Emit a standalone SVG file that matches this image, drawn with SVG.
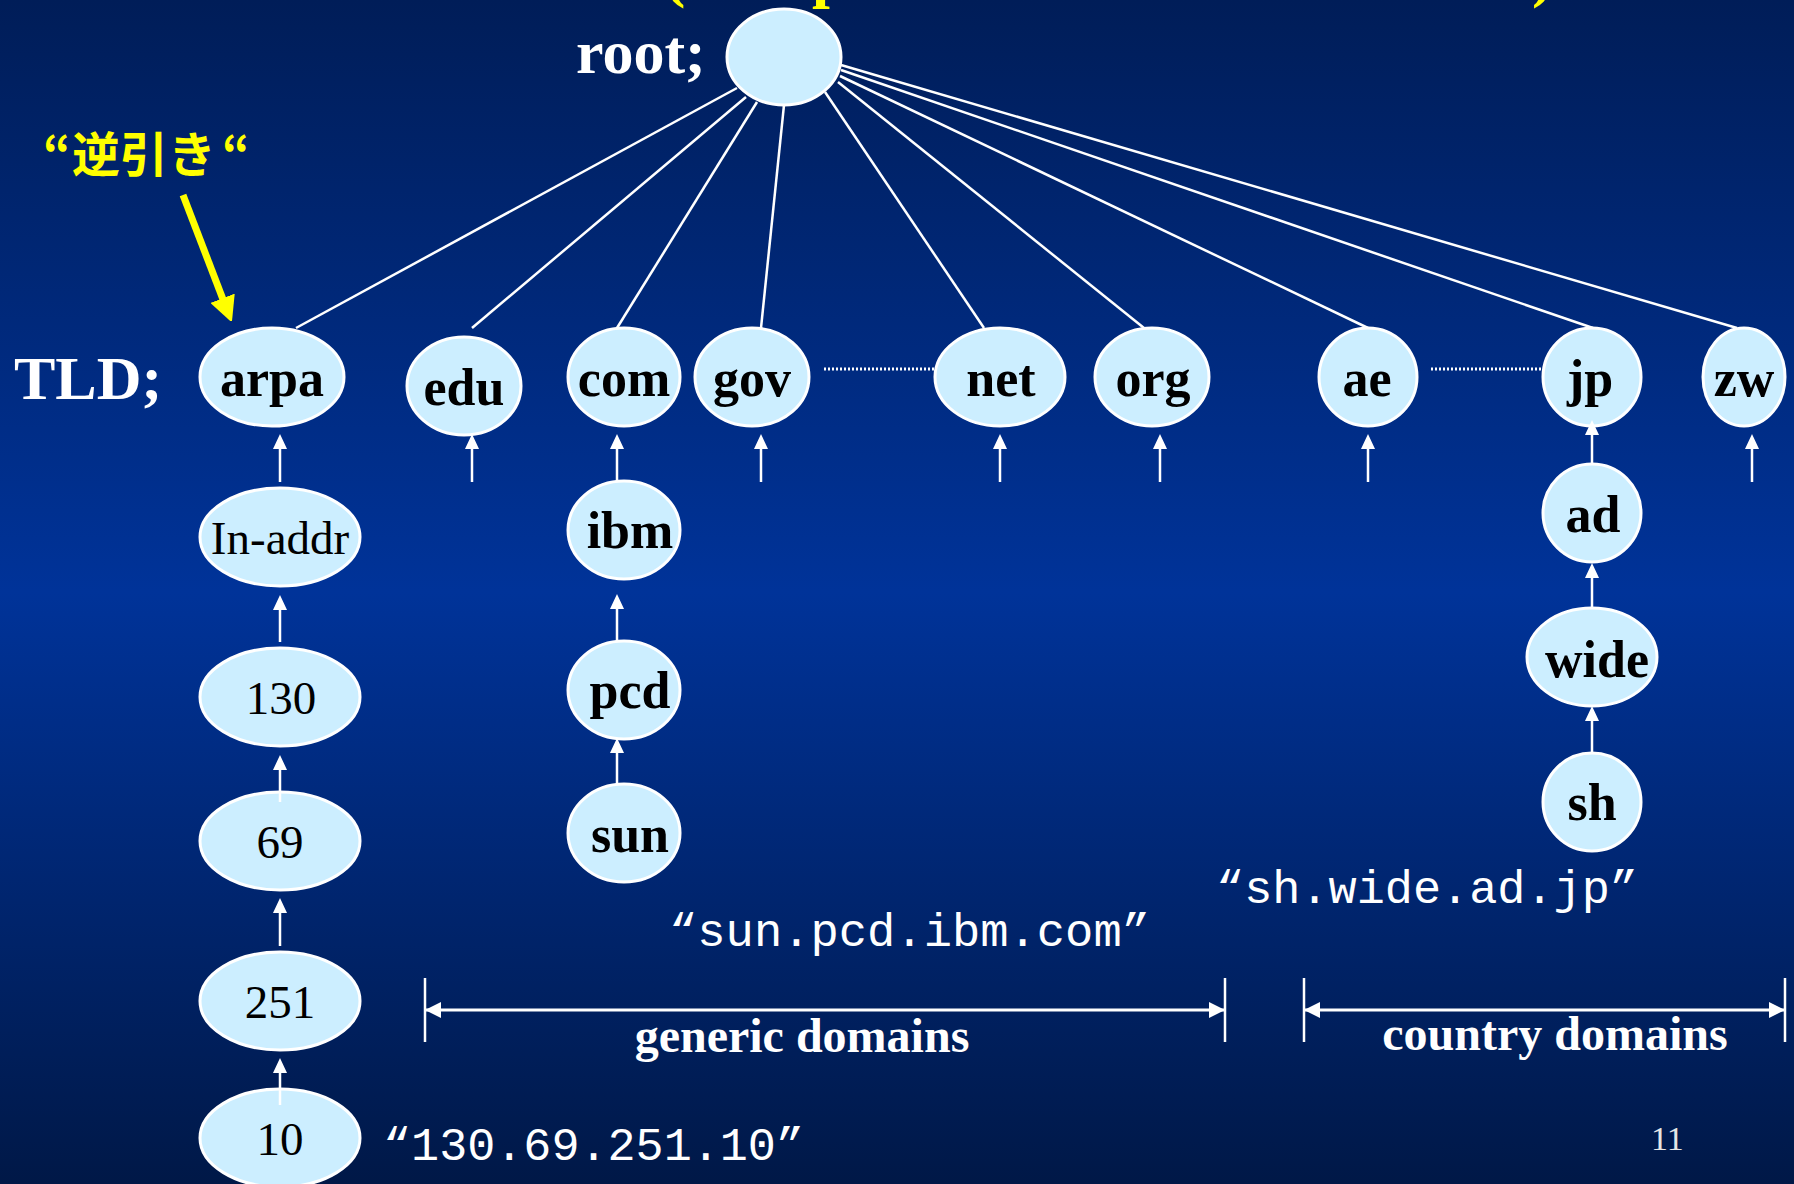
<svg xmlns="http://www.w3.org/2000/svg" width="1794" height="1184" viewBox="0 0 1794 1184">
<defs>
<linearGradient id="bg" x1="0" y1="0" x2="0" y2="1">
<stop offset="0" stop-color="#001d58"/>
<stop offset="0.5" stop-color="#003399"/>
<stop offset="1" stop-color="#001847"/>
</linearGradient>
<marker id="ah" markerUnits="userSpaceOnUse" markerWidth="16" markerHeight="14" refX="4" refY="7" orient="auto">
<path d="M0,0 L15,7 L0,14 z" fill="#ffffff"/>
</marker>
<marker id="dh" markerUnits="userSpaceOnUse" markerWidth="17" markerHeight="16" refX="16" refY="8" orient="auto-start-reverse">
<path d="M0,0 L16,8 L0,16 z" fill="#ffffff"/>
</marker>
<marker id="yh" markerUnits="userSpaceOnUse" markerWidth="24" markerHeight="26" refX="4" refY="13" orient="auto">
<path d="M0,0 L26,13 L0,26 z" fill="#ffff00"/>
</marker>
</defs>
<style>
.n ellipse{fill:#cceeff;stroke:#ffffff;stroke-width:3}
.b{font-family:"Liberation Serif","Times New Roman",serif;font-weight:bold;font-size:52px;fill:#000;text-anchor:middle}
.r{font-family:"Liberation Serif","Times New Roman",serif;font-size:47px;fill:#000;text-anchor:middle}
.e line.t{stroke:#ffffff;stroke-width:2.5}
.e line.a{stroke:#ffffff;stroke-width:2.5;marker-end:url(#ah)}
.w{font-family:"Liberation Serif","Times New Roman",serif;font-weight:bold;fill:#ffffff}
.m{font-family:"Liberation Mono","Courier New",monospace;font-size:46px;fill:#ffffff}
.y{font-family:"Liberation Serif","Times New Roman",serif;font-weight:bold;font-size:64px;fill:#ffff00}
</style>
<rect x="0" y="0" width="1794" height="1184" fill="url(#bg)"/>

<g id="title-fragments">
<text class="y" x="664" y="-5">(</text>
<text class="y" x="812" y="-5">p</text>
<text class="y" x="1532" y="-5">)</text>
</g>

<g id="labels">
<text class="w" x="576" y="73" font-size="62">root;</text>
<text class="w" x="14" y="399" font-size="62">TLD;</text>
<text x="43" y="172" font-family="'Noto Sans CJK JP',sans-serif" font-weight="bold" font-size="48" fill="#ffff00"><tspan x="43">“</tspan><tspan x="72">逆引き</tspan><tspan x="222">“</tspan></text>
<line x1="183" y1="195" x2="224" y2="302" stroke="#ffff00" stroke-width="7" marker-end="url(#yh)"/>
<text class="m" x="669" y="946" textLength="481" lengthAdjust="spacingAndGlyphs">“sun.pcd.ibm.com”</text>
<text class="m" x="1216" y="903" textLength="422" lengthAdjust="spacingAndGlyphs">“sh.wide.ad.jp”</text>
<text class="m" x="383" y="1160" textLength="421" lengthAdjust="spacingAndGlyphs">“130.69.251.10”</text>
<text class="w" x="802" y="1052" font-size="48" text-anchor="middle">generic domains</text>
<text class="w" x="1555" y="1050" font-size="48" text-anchor="middle">country domains</text>
<text x="1651" y="1150" font-family="'Liberation Serif',serif" font-size="34" fill="#e6e6e6">11</text>
</g>

<g id="root" class="n"><ellipse cx="784" cy="57" rx="57" ry="48"/></g>
<g id="arpa" class="n"><ellipse cx="272" cy="377" rx="72" ry="49"/><text class="b" x="272" y="396">arpa</text></g>
<g id="edu" class="n"><ellipse cx="464" cy="386" rx="57" ry="49"/><text class="b" x="464" y="405">edu</text></g>
<g id="com" class="n"><ellipse cx="624" cy="377" rx="56" ry="49"/><text class="b" x="624" y="396">com</text></g>
<g id="gov" class="n"><ellipse cx="752" cy="377" rx="57" ry="49"/><text class="b" x="752" y="396">gov</text></g>
<g id="net" class="n"><ellipse cx="1000" cy="377" rx="65" ry="49"/><text class="b" x="1001" y="396">net</text></g>
<g id="org" class="n"><ellipse cx="1152" cy="377" rx="57" ry="49"/><text class="b" x="1153" y="396">org</text></g>
<g id="ae" class="n"><ellipse cx="1368" cy="377" rx="49" ry="49"/><text class="b" x="1367" y="396">ae</text></g>
<g id="jp" class="n"><ellipse cx="1592" cy="377" rx="49" ry="49"/><text class="b" x="1590" y="396">jp</text></g>
<g id="zw" class="n"><ellipse cx="1744" cy="377" rx="41" ry="49"/><text class="b" x="1744" y="396">zw</text></g>
<g id="in-addr" class="n"><ellipse cx="280" cy="537" rx="80" ry="49"/><text class="r" x="280" y="554">In-addr</text></g>
<g id="n130" class="n"><ellipse cx="280" cy="697" rx="80" ry="49"/><text class="r" x="281" y="714">130</text></g>
<g id="n69" class="n"><ellipse cx="280" cy="841" rx="80" ry="49"/><text class="r" x="280" y="858">69</text></g>
<g id="n251" class="n"><ellipse cx="280" cy="1001" rx="80" ry="49"/><text class="r" x="280" y="1018">251</text></g>
<g id="n10" class="n"><ellipse cx="280" cy="1138" rx="80" ry="49"/><text class="r" x="280" y="1155">10</text></g>
<g id="ibm" class="n"><ellipse cx="624" cy="530" rx="56" ry="49"/><text class="b" x="630" y="548">ibm</text></g>
<g id="pcd" class="n"><ellipse cx="624" cy="690" rx="56" ry="49"/><text class="b" x="630" y="708">pcd</text></g>
<g id="sun" class="n"><ellipse cx="624" cy="833" rx="56" ry="49"/><text class="b" x="630" y="852">sun</text></g>
<g id="ad" class="n"><ellipse cx="1592" cy="513" rx="49" ry="49"/><text class="b" x="1593" y="532">ad</text></g>
<g id="wide" class="n"><ellipse cx="1592" cy="657" rx="65" ry="49"/><text class="b" x="1597" y="677">wide</text></g>
<g id="sh" class="n"><ellipse cx="1592" cy="802" rx="49" ry="49"/><text class="b" x="1592" y="820">sh</text></g>

<g id="connectors" class="e">
<line class="t" x1="737" y1="88" x2="296" y2="328"/>
<line class="t" x1="746" y1="97" x2="472" y2="328"/>
<line class="t" x1="757" y1="102" x2="617" y2="328"/>
<line class="t" x1="784" y1="105" x2="761" y2="328"/>
<line class="t" x1="825" y1="92" x2="984" y2="328"/>
<line class="t" x1="838" y1="82" x2="1144" y2="328"/>
<line class="t" x1="840" y1="76" x2="1368" y2="328"/>
<line class="t" x1="841" y1="70" x2="1593" y2="328"/>
<line class="t" x1="841" y1="65" x2="1737" y2="328"/>
<line x1="824" y1="369" x2="934" y2="369" stroke="#ffffff" stroke-width="3" stroke-dasharray="2 2"/>
<line x1="1431" y1="369" x2="1543" y2="369" stroke="#ffffff" stroke-width="3" stroke-dasharray="2 2"/>
<line class="a" x1="280" y1="482" x2="280" y2="445"/>
<line class="a" x1="280" y1="642" x2="280" y2="606"/>
<line class="a" x1="280" y1="802" x2="280" y2="766"/>
<line class="a" x1="280" y1="946" x2="280" y2="909"/>
<line class="a" x1="280" y1="1105" x2="280" y2="1069"/>
<line class="a" x1="472" y1="482" x2="472" y2="445"/>
<line class="a" x1="617" y1="481" x2="617" y2="445"/>
<line class="a" x1="617" y1="641" x2="617" y2="605"/>
<line class="a" x1="617" y1="785" x2="617" y2="749"/>
<line class="a" x1="761" y1="482" x2="761" y2="445"/>
<line class="a" x1="1000" y1="482" x2="1000" y2="445"/>
<line class="a" x1="1160" y1="482" x2="1160" y2="445"/>
<line class="a" x1="1368" y1="482" x2="1368" y2="445"/>
<line class="a" x1="1752" y1="482" x2="1752" y2="445"/>
<line class="a" x1="1592" y1="465" x2="1592" y2="431"/>
<line class="a" x1="1592" y1="608" x2="1592" y2="574"/>
<line class="a" x1="1592" y1="753" x2="1592" y2="717"/>
<line x1="425" y1="1010" x2="1225" y2="1010" stroke="#ffffff" stroke-width="3" marker-start="url(#dh)" marker-end="url(#dh)"/>
<line x1="1304" y1="1010" x2="1785" y2="1010" stroke="#ffffff" stroke-width="3" marker-start="url(#dh)" marker-end="url(#dh)"/>
<line x1="425" y1="978" x2="425" y2="1042" stroke="#ffffff" stroke-width="2.5"/>
<line x1="1225" y1="978" x2="1225" y2="1042" stroke="#ffffff" stroke-width="2.5"/>
<line x1="1304" y1="978" x2="1304" y2="1042" stroke="#ffffff" stroke-width="2.5"/>
<line x1="1785" y1="978" x2="1785" y2="1042" stroke="#ffffff" stroke-width="2.5"/>
</g>
</svg>
